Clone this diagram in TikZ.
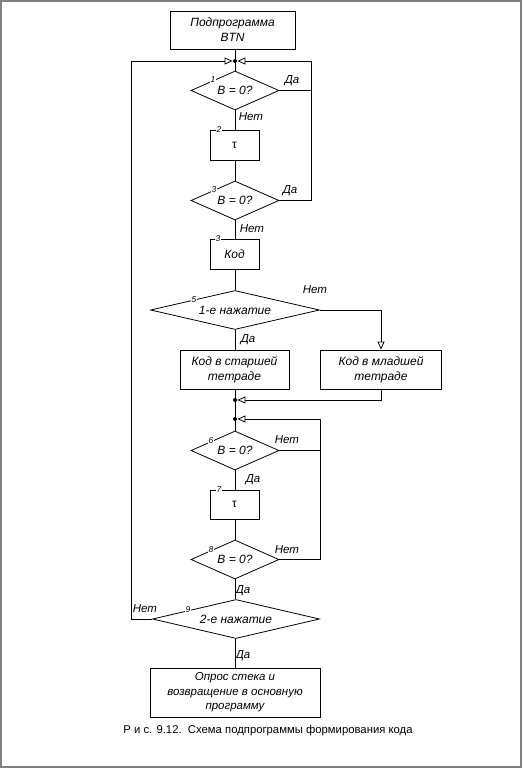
\documentclass[tikz,border=0pt]{standalone}
\usepackage{fontspec}
\setmainfont{Liberation Sans}
\usetikzlibrary{arrows.meta,shapes.geometric}
\begin{document}
\begin{tikzpicture}[x=1pt,y=-1pt,
  line width=0.8pt,
  box/.style={draw, rectangle, inner sep=0pt, align=center, font=\itshape\fontsize{12}{15}\selectfont},
  dia/.style={draw, diamond, inner sep=0pt, font=\itshape\fontsize{12}{14}\selectfont},
  num/.style={fill=white, inner sep=0.6pt, font=\itshape\fontsize{8.5}{9}\selectfont},
  lab/.style={inner sep=0pt, font=\itshape\fontsize{11.5}{12}\selectfont},
  dot/.style={circle, fill, inner sep=0pt, minimum size=4pt},
  arr/.style={-{Triangle[open,length=8pt,width=7pt]}},
  frame/.style={draw=gray, line width=1.6pt}]
\useasboundingbox (0,0) rectangle (523,768);
\draw[frame] (1,1) rectangle (521,767);

% nodes
\node[box, minimum width=125pt, minimum height=38pt] (start) at (232.5,30) {Подпрограмма\\BTN};
\node[dot] (j1) at (235,61) {};
\node[dia, minimum width=88pt, minimum height=39pt, aspect=2.26] (d1) at (235,90.5) {B = 0?};
\node[box, minimum width=49pt, minimum height=30pt, font=\fontsize{12}{14}\selectfont] (t1) at (234.5,145) {τ};
\node[dia, minimum width=88pt, minimum height=39pt, aspect=2.26] (d3) at (235,200.5) {B = 0?};
\node[box, minimum width=49pt, minimum height=30pt] (kod) at (234.5,254) {Код};
\node[dia, minimum width=169pt, minimum height=39pt, aspect=4.33] (d5) at (235,310) {1-е нажатие};
\node[box, minimum width=109pt, minimum height=39pt] (hi) at (234.5,369.5) {Код в старшей\\тетраде};
\node[box, minimum width=121pt, minimum height=39pt] (lo) at (381,369.5) {Код в младшей\\тетраде};
\node[dot] (j2) at (235,400) {};
\node[dot] (j3) at (235,419) {};
\node[dia, minimum width=88pt, minimum height=39pt, aspect=2.26] (d6) at (235,450.5) {B = 0?};
\node[box, minimum width=49pt, minimum height=29pt, font=\fontsize{12}{14}\selectfont] (t2) at (234.5,504.5) {τ};
\node[dia, minimum width=88pt, minimum height=39pt, aspect=2.26] (d8) at (235,559.5) {B = 0?};
\node[dia, minimum width=167pt, minimum height=39pt, aspect=4.28] (d9) at (236,619) {2-е нажатие};
\node[box, minimum width=170pt, minimum height=49pt, font=\itshape\fontsize{11.5}{14.5}\selectfont] (end) at (235,692.5) {Опрос стека и\\возвращение в основную\\программу};

\coordinate (r1) at (311,90.5);
\coordinate (r3) at (311,200.5);
\coordinate (r6) at (320,450.5);
\coordinate (r8) at (320,559.5);
\coordinate (l9) at (131,619);

% connectors
\draw (start.south -| j1) -- (j1);
\draw (j1) -- (d1.north);
\draw (d1.south) -- (t1.north -| d1.south);
\draw (t1.south -| d1.south) -- (d3.north);
\draw (d3.south) -- (kod.north -| d3.south);
\draw (kod.south -| d5.north) -- (d5.north);
\draw (d5.south) -- (hi.north -| d5.south);
\draw[arr] (d5.east) -| (lo.north);
\draw[arr] (lo.south) |- (j2);
\draw (hi.south -| j2) -- (j2);
\draw (j2) -- (j3);
\draw (j3) -- (d6.north);
\draw (d6.south) -- (t2.north -| d6.south);
\draw (t2.south -| d8.north) -- (d8.north);
\draw (d8.south) -- (d9.north -| d8.south);
\draw (d9.south -| end.north) -- (end.north);
\draw (d3.east) -- (r3) -- (r1);
\draw[arr] (d1.east) -- (r1) |- (j1);
\draw (d8.east) -- (r8) -- (r6);
\draw[arr] (d6.east) -- (r6) |- (j3);
\draw[arr] (d9.west) -- (l9) |- (j1);

% numbers
\node[num] (n1) at (213,80) {1};
\node[num] (n2) at (219,130) {2};
\node[num] (n3) at (214,190) {3};
\node[num] (n4) at (218,239) {3};
\node[num] (n5) at (194,300) {5};
\node[num] (n6) at (211,441) {6};
\node[num] (n7) at (219,490) {7};
\node[num] (n8) at (211,550) {8};
\node[num] (n9) at (188,610) {9};

% labels
\node[lab] (a1) at (292,81) {Да};
\node[lab] (a2) at (251,117) {Нет};
\node[lab] (a3) at (290,191) {Да};
\node[lab] (a4) at (252,229) {Нет};
\node[lab] (a5) at (315,290) {Нет};
\node[lab] (a6) at (248,340) {Да};
\node[lab] (a7) at (287,440) {Нет};
\node[lab] (a8) at (253,480) {Да};
\node[lab] (a9) at (287,550) {Нет};
\node[lab] (a10) at (243,591) {Да};
\node[lab] (a11) at (145,609) {Нет};
\node[lab] (a12) at (243,656) {Да};

% caption
\node[inner sep=0pt, font=\fontsize{11.3}{14}\selectfont] (cap) at (268,731) {Р и с. 9.12.\ \ Схема подпрограммы формирования кода};
\end{tikzpicture}
\end{document}
